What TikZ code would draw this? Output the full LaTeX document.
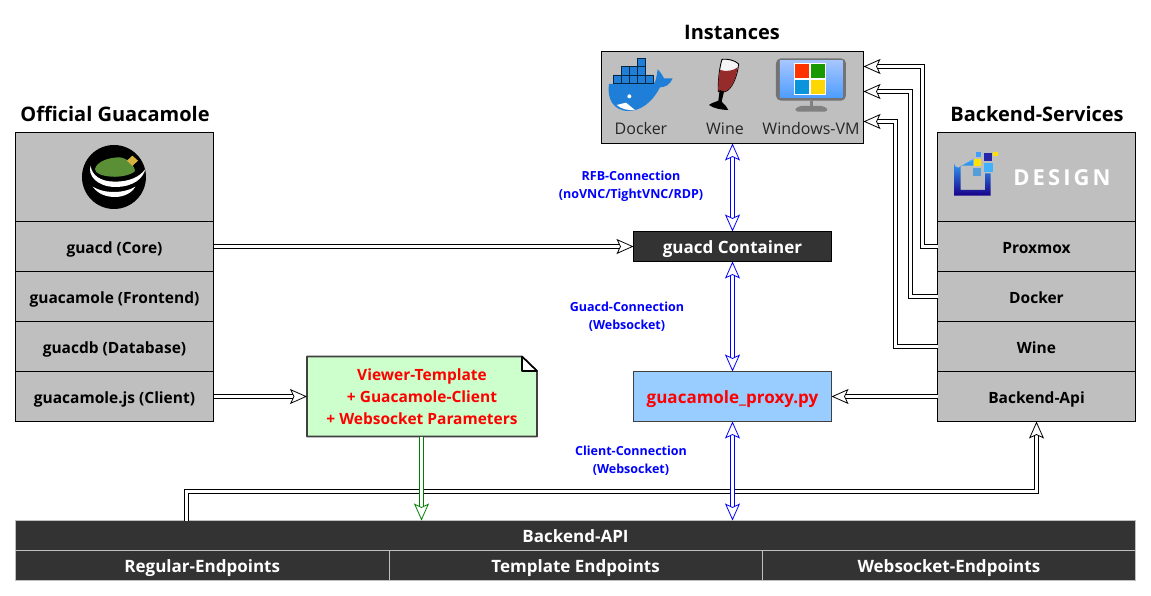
\documentclass[tikz,border=0pt]{standalone}
\usepackage{fontspec}
\setmainfont{Open Sans}
\usetikzlibrary{arrows.meta}
\definecolor{panelgray}{HTML}{BFBFBF}
\definecolor{darkcell}{HTML}{333333}
\definecolor{proxyblue}{HTML}{99CCFF}
\definecolor{notegreen}{HTML}{CCFFCC}
\definecolor{whaleblue}{HTML}{1F7FD8}
\definecolor{winered}{HTML}{962B2B}
\definecolor{dipgreen}{HTML}{5A8F35}
\definecolor{lidgold}{HTML}{D6B23E}
\tikzset{
  cell/.style={draw=black,fill=panelgray,line width=1pt,minimum width=198pt,minimum height=50pt,outer sep=0pt,
    text height=13pt,text depth=0pt,font=\fontsize{15.5}{18}\selectfont\bfseries},
  barcell/.style={draw=black!25,fill=darkcell,text=white,line width=1pt,minimum height=30pt,outer sep=0pt,
    text height=13pt,text depth=0pt,font=\fontsize{17}{20}\selectfont\bfseries},
  headtitle/.style={font=\fontsize{20}{24}\selectfont\bfseries},
  linktext/.style={text=blue,align=center,font=\fontsize{12.5}{18}\selectfont\bfseries},
  iconlabel/.style={text=black!85,font=\fontsize{16}{19}\selectfont},
  dbl/.style={double=white,double distance=3pt,line width=1pt,
    >={Stealth[fill=white,length=17pt,width=15pt,inset=3.5pt,line width=0.8pt]}},
}
\begin{document}
\begin{tikzpicture}[x=1pt,y=-1pt]
  \useasboundingbox (0,0) rectangle (1151,596);
  % left stack
  \node[headtitle] (guactitle) at (115,114) {Official Guacamole};
  \node[cell,minimum height=89pt] (guaclogo) at (114.5,177) {};
  \node[cell] (core) at (114.5,246.5) {guacd (Core)};
  \node[cell] (frontend) at (114.5,296.5) {guacamole (Frontend)};
  \node[cell] (database) at (114.5,346.5) {guacdb (Database)};
  \node[cell] (client) at (114.5,396.5) {guacamole.js (Client)};
  % right stack
  \node[headtitle] (backtitle) at (1037,114) {Backend-Services};
  \node[cell,minimum height=89pt] (designlogo) at (1036.5,177) {};
  \node[cell] (proxmox) at (1036.5,246.5) {Proxmox};
  \node[cell] (docker) at (1036.5,296.5) {Docker};
  \node[cell] (wine) at (1036.5,346.5) {Wine};
  \node[cell] (backapi) at (1036.5,396.5) {Backend-Api};
  % instances
  \node[headtitle] (insttitle) at (732,32) {Instances};
  \node[cell,minimum width=262pt,minimum height=92pt] (instances) at (732.5,97.5) {};
  \node[iconlabel] (dockerlabel) at (641,129) {Docker};
  \node[iconlabel] (winelabel) at (725,129) {Wine};
  \node[iconlabel] (winvmlabel) at (811,129) {Windows-VM};
  % middle
  \node[cell,fill=darkcell,text=white,minimum height=30pt,font=\fontsize{17}{20}\selectfont\bfseries] (container) at (732.5,246.5) {guacd Container};
  \node[cell,fill=proxyblue,text=red,line width=1.6pt,draw=black!75,font=\fontsize{17}{20}\selectfont\bfseries] (proxy) at (732.5,396.5) {guacamole\_proxy.py};
  % note
  \node[minimum width=230pt,minimum height=80pt,outer sep=0pt] (note) at (422,396.5) {};
  \draw[draw=black!75,fill=notegreen,line width=1.6pt,line join=round] (note.north west) -- (522,356.5) -- (537,371) -- (note.south east) -- (note.south west) -- cycle;
  \draw[draw=black,fill=white,line width=1.6pt,line join=round] (522,356.5) -- (522,371) -- (537,371) -- cycle;
  \node[text=red,align=center,font=\fontsize{15.5}{22}\selectfont\bfseries] (notetext) at (422,397) {Viewer-Template\\+ Guacamole-Client\\+ Websocket Parameters};
  % bottom bar
  \node[barcell,minimum width=1120pt] (api) at (575.5,535.5) {Backend-API};
  \node[barcell,minimum width=373.5pt] (regular) at (202.25,565.5) {Regular-Endpoints};
  \node[barcell,minimum width=373.3pt] (template) at (575.65,565.5) {Template Endpoints};
  \node[barcell,minimum width=373.2pt] (socket) at (948.9,565.5) {Websocket-Endpoints};
  % link labels
  \node[linktext] (rfblabel) at (631,186) {RFB-Connection\\(noVNC/TightVNC/RDP)};
  \node[linktext] (guacdlabel) at (627,317) {Guacd-Connection\\(Websocket)};
  \node[linktext] (clientlabel) at (631,461) {Client-Connection\\(Websocket)};
  % free ends
  \coordinate (instA) at (instances.east |- 0,66.5);
  \coordinate (instB) at (instances.east |- 0,91.5);
  \coordinate (instC) at (instances.east |- 0,121.5);
  \coordinate (apiout) at (186.5,520.5);
  \coordinate (noteout) at (421.5,436.5);
  \coordinate (notein) at (421.5,520.5);
  \coordinate (proxyin) at (732.5,520.5);
  % connectors
  \draw[dbl,->] (core.east) -- (container.west);
  \draw[dbl,->] (client.east) -- (note.west);
  \draw[dbl,->] (backapi.west) -- (proxy.east);
  \draw[dbl,->] (proxmox.west) -- (922.5,246.5) -- (922.5,66.5) -- (instA);
  \draw[dbl,->] (docker.west) -- (910.5,296.5) -- (910.5,91.5) -- (instB);
  \draw[dbl,->] (wine.west) -- (895.5,346.5) -- (895.5,121.5) -- (instC);
  \draw[dbl,->] (apiout) -- (186.5,491.5) -- (1036.5,491.5) -- (backapi.south);
  \draw[dbl,->,draw=green!50!black] (noteout) -- (notein);
  \draw[dbl,<->,draw=blue] (instances.south) -- (container.north);
  \draw[dbl,<->,draw=blue] (container.south) -- (proxy.north);
  \draw[dbl,<->,draw=blue] (proxy.south) -- (proxyin);
  % docker whale
  \begin{scope}[shift={(590,10)},x=0.3333pt,y=-0.3333pt]
    \fill[whaleblue] (57,222) -- (188,222) .. controls (195,222) and (198,212) .. (203,178) .. controls (212,188) and (218,195) .. (222,205) -- (248,205) .. controls (240,225) and (225,232) .. (210,232) .. controls (185,280) and (150,303) .. (115,303) .. controls (70,303) and (50,265) .. (57,222) -- cycle;
    \fill[white] (80,285) -- (108,278) -- (135,300) .. controls (115,302) and (95,298) .. (80,285) -- cycle;
    \fill[white] (118,259) circle (6);
    \filldraw[fill=whaleblue,draw=black!70!whaleblue,line width=0.5pt] (141,145) rectangle (165,170);
    \filldraw[fill=whaleblue,draw=black!70!whaleblue,line width=0.5pt] (95,170) rectangle (118,195) (118,170) rectangle (141,195) (141,170) rectangle (165,195);
    \filldraw[fill=whaleblue,draw=black!70!whaleblue,line width=0.5pt] (70,195) rectangle (95,220) (95,195) rectangle (118,220) (118,195) rectangle (141,220) (141,195) rectangle (165,220) (165,195) rectangle (190,220);
    % wine glass
    \draw[fill=white!85!panelgray,line width=0.9pt] (396,148) .. controls (410,146) and (435,150) .. (446,162) .. controls (442,200) and (425,240) .. (405,245) -- (385,245) .. controls (384,210) and (388,175) .. (396,148) -- cycle;
    \fill[winered] (390,180) .. controls (410,186) and (430,182) .. (443,172) .. controls (438,205) and (425,240) .. (403,245) -- (385,243) .. controls (384,220) and (386,200) .. (390,180) -- cycle;
    \fill[black] (389,240) -- (402,245) -- (395,275) .. controls (405,285) and (412,292) .. (415,300) .. controls (395,300) and (370,295) .. (357,285) .. controls (365,278) and (378,276) .. (385,272) -- cycle;
    % monitor
    \fill[black!55,rounded corners=5pt] (558,145) rectangle (768,272);
    \shade[top color=cyan!35!blue!35!white,bottom color=cyan!45!blue!70] (570,152) rectangle (758,264);
    \fill[white] (612,160) rectangle (708,255);
    \fill[red!60!orange] (615,162) rectangle (657,205);
    \fill[green!55!black!90!yellow] (663,162) rectangle (705,205);
    \fill[cyan!80!blue] (615,210) rectangle (657,252);
    \fill[yellow!75!orange] (663,210) rectangle (705,252);
    \fill[black!50] (659,272) rectangle (670,288);
    \fill[black!50,rounded corners=4pt] (612,305) -- (622,288) -- (706,288) -- (716,305) -- cycle;
  \end{scope}
  % guacamole bowl
  \begin{scope}[shift={(0,95)},x=0.3333pt,y=-0.3333pt]
    \fill[black] (342,246) circle (96);
    \fill[dipgreen] (285,222) .. controls (290,200) and (325,187) .. (360,187) .. controls (385,190) and (405,215) .. (405,228) .. controls (395,240) and (360,247) .. (335,245) .. controls (305,243) and (285,235) .. (285,222) -- cycle;
    \fill[white] (272,212) .. controls (262,240) and (290,275) .. (345,276) .. controls (400,276) and (430,250) .. (436,222) .. controls (420,245) and (390,260) .. (345,260) .. controls (300,260) and (275,240) .. (272,212) -- cycle;
    \fill[white] (278,275) .. controls (295,298) and (320,306) .. (345,306) .. controls (370,306) and (395,295) .. (406,275) .. controls (385,287) and (365,291) .. (342,291) .. controls (315,291) and (295,285) .. (278,275) -- cycle;
    \fill[lidgold] (397,182) -- (414,197) -- (397,213) -- (381,197) -- cycle;
  \end{scope}
  % design logo
  \begin{scope}[shift={(930,95)},x=0.3333pt,y=-0.3333pt]
    \shade[top color=cyan!60!blue!80,bottom color=blue!60!black!90!red] (72,205) arc (180:90:13) -- (130,192) -- (130,212) -- (92,212) -- (92,285) -- (165,285) -- (165,235) -- (182,235) -- (182,302) -- (72,302) -- cycle;
    \fill[blue!50!cyan!75] (138,170) rectangle (154,186);
    \fill[blue!60!black!85] (162,175) rectangle (186,199);
    \fill[yellow!85!orange] (190,170) rectangle (204,183);
    \fill[yellow!85!orange] (133,192) rectangle (153,213);
    \fill[blue!40!cyan!75] (162,205) rectangle (188,231);
    \fill[cyan!65!blue!70] (128,220) rectangle (153,243);
  \end{scope}
  \node[text=white,font=\fontsize{22}{24}\selectfont\bfseries\addfontfeatures{LetterSpace=14}] (designtext) at (1062,178) {DESIGN};
\end{tikzpicture}
\end{document}
